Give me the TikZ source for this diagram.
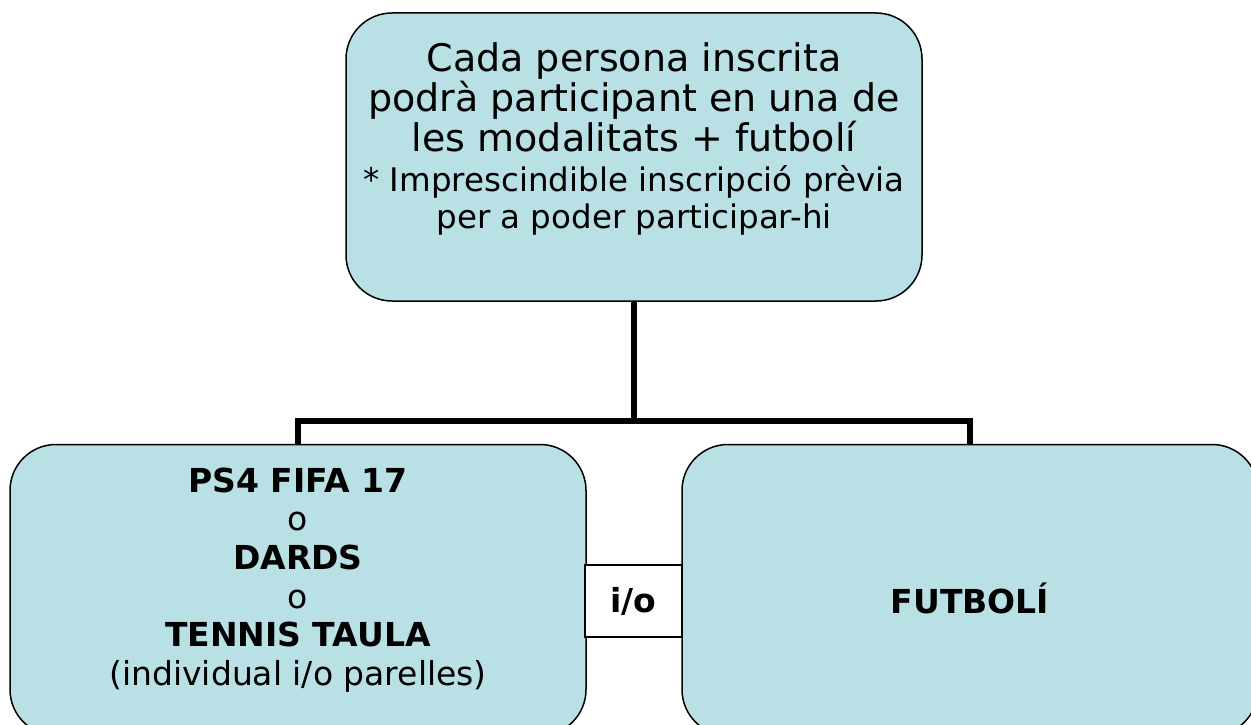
\documentclass[tikz,border=0pt]{standalone}
\usepackage{fontspec}
\setmainfont{DejaVu Sans}
\usetikzlibrary{positioning}
\definecolor{blaucaixa}{RGB}{185,224,228}
\tikzset{
 caixa/.style={draw=black,line width=1.5pt,fill=blaucaixa,rounded corners=46pt,
  minimum width=576pt,minimum height=291pt,inner sep=0pt},
 enllac/.style={line width=6pt},
 textgran/.style={align=center,font=\fontsize{38}{40}\selectfont},
 textpetit/.style={align=center,font=\fontsize{32.5}{37}\selectfont},
 textbaix/.style={align=center,font=\fontsize{33}{38.6}\selectfont},
}
\begin{document}
\begin{tikzpicture}[x=1pt,y=-1pt]
 \useasboundingbox (0,0) rectangle (1251,725);
 % caixes
 \node[caixa,minimum height=288pt] (inscrita) at (634,157) {};
 \node[caixa] (jocs) at (298,590) {};
 \node[caixa] (futboli) at (970,590) {};
 % enllacos
 \coordinate (nus) at (634,421);
 \draw[enllac] (inscrita.south) -- (nus);
 \draw[enllac] (nus) -| (jocs.north);
 \draw[enllac] (nus) -| (futboli.north);
 % textos
 \node[textgran] (txtgran) at (634,97) {Cada persona inscrita\\podrà participant en una de\\les modalitats + futbolí};
 \node[textpetit] (txtpetit) at (634,200) {* Imprescindible inscripció prèvia\\per a poder participar-hi};
 \node[textbaix] (txtjocs) at (298,580) {\textbf{PS4 FIFA 17}\\o\\\textbf{DARDS}\\o\\\textbf{TENNIS TAULA}\\(individual i/o parelles)};
 \node[textbaix] (txtfutboli) at (970,598) {\textbf{FUTBOLÍ}};
 \node[draw=black,line width=1.5pt,fill=white,minimum width=97pt,minimum height=72pt,
  font=\fontsize{33}{36}\selectfont\bfseries] (io) at (633.5,601) {i/o};
\end{tikzpicture}
\end{document}
